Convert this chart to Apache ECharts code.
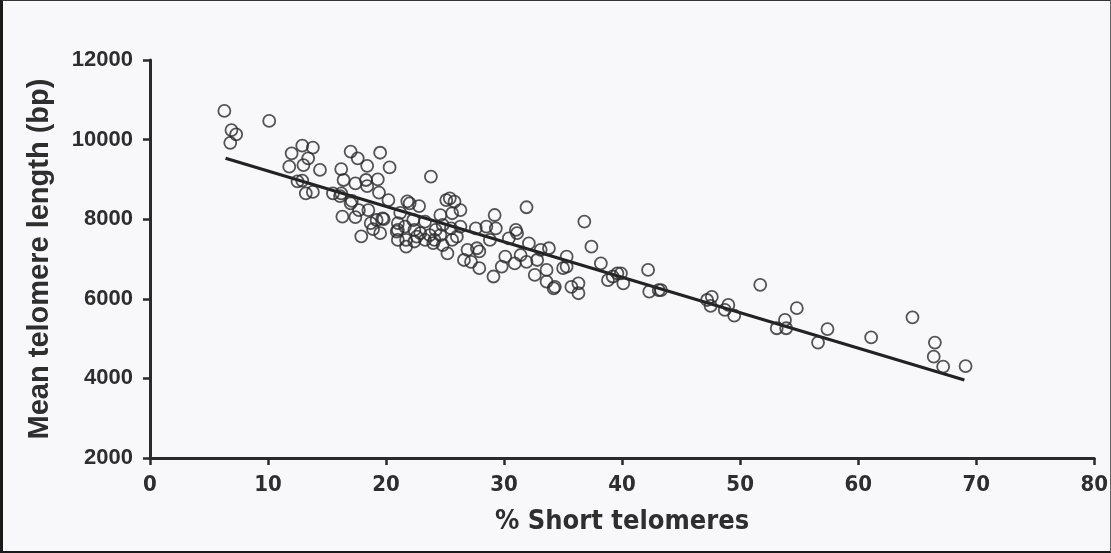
<!DOCTYPE html>
<html><head><meta charset="utf-8">
<script src="https://cdn.jsdelivr.net/npm/echarts@6/dist/echarts.min.js"></script>
<style>
html,body{margin:0;padding:0;background:#f8f8fb;}
#c{width:1111px;height:553px;}
#frame{position:absolute;left:0;top:0;width:1111px;height:553px;box-sizing:border-box;border-left:3px solid #1a1a1a;border-top:1px solid #333;border-bottom:2px solid #1a1a1a;border-right:1px solid #666;pointer-events:none;}
</style></head>
<body>
<div id="c"></div><div id="frame"></div>
<script>
const xTicks = [0,10,20,30,40,50,60,70,80];
const yTicks = [2000,4000,6000,8000,10000,12000];
const xLabel = '% Short telomeres';
const yLabel = 'Mean telomere length (bp)';
const shortPct = [
6.3,10.1,6.9,7.3,6.8,12.0,12.9,13.8,13.4,13.0,11.8,14.4,12.5,12.9,13.2,13.8,
17.0,17.6,19.5,18.4,20.3,16.2,16.4,17.4,15.5,16.2,17.1,18.3,18.4,19.3,19.4,20.2,16.1,17.0,17.7,18.5,16.3,17.4,19.2,19.8,18.9,19.5,17.9,
21.8,22.8,23.8,21.2,21.0,21.0,21.6,22.3,22.4,23.3,24.2,21.7,21.0,23.3,24.1,24.6,21.7,24.8,25.1,18.7,20.9,22.0,22.4,22.9,19.7,
25.4,25.8,26.3,25.6,29.2,31.9,24.8,25.5,26.3,27.6,28.5,29.3,24.6,25.6,31.0,31.1,28.8,30.4,32.1,25.2,26.9,27.7,27.9,33.8,33.1,26.6,27.2,30.1,31.4,31.9,30.9,29.8,32.8,27.9,33.6,35.0,29.1,32.6,33.6,34.3,
22.6,23.7,24.0,26.0,
36.8,37.4,35.3,38.2,42.2,38.8,39.6,40.1,39.2,42.3,43.3,34.2,35.7,36.3,36.3,35.3,39.9,43.1,
47.2,47.6,47.5,49.0,48.7,49.5,51.7,54.8,53.8,53.1,53.9,57.4,56.6,61.1,64.6,66.5,66.4,67.2,69.1
];
const meanLength = [
10720,10470,10240,10130,9920,9656,9848,9800,9530,9360,9320,9237,8950,8970,8650,8685,
9700,9530,9670,9340,9300,9260,8985,8900,8650,8650,8460,8985,8830,9000,8670,8480,8580,8400,8230,8230,8063,8050,7980,8000,7750,7650,7570,
8450,8330,9070,8160,7900,7730,7815,7980,7730,7940,7730,7480,7480,7480,7480,8100,7310,7350,8480,7900,7690,8400,7440,7650,8020,
8525,8440,8230,8150,8105,8300,7855,7770,7815,7770,7815,7770,7600,7480,7730,7650,7480,7520,7395,7140,7230,7270,7190,7270,7230,6975,6930,7060,7100,6930,6890,6810,6975,6770,6725,6770,6560,6600,6430,6300,
7560,7600,7400,7560,
7940,7310,7060,6890,6725,6470,6640,6390,6560,6180,6220,6260,6300,6390,6140,6810,6640,6220,
5970,6050,5820,5845,5720,5575,6350,5765,5470,5260,5260,5240,4900,5030,5535,4900,4545,4295,4310
];
const fitX = [6.4, 69.0];
const fitY = [9530, 3960];

const pts = shortPct.map((x,i)=>[x, meanLength[i]]);
const fit = fitX.map((x,i)=>[x, fitY[i]]);
const txt = '#2e2e2e';
const narrow = '"Liberation Sans Narrow", "DejaVu Sans Condensed", "Roboto Condensed", sans-serif';
const arial = '"Liberation Sans", Arial, Helvetica, sans-serif';
const chart = echarts.init(document.getElementById('c'));
chart.setOption({
  backgroundColor:'#f8f8fb',
  animation:false,
  grid:{left:150,right:9,top:60,bottom:95},
  xAxis:{type:'value',min:0,max:80,interval:10,
    name:xLabel,nameLocation:'middle',nameGap:50,
    nameTextStyle:{fontFamily:narrow,fontWeight:'bold',fontSize:27,color:txt},
    axisLine:{lineStyle:{color:'#2a2a2a',width:3}},
    axisTick:{length:7,lineStyle:{color:'#2a2a2a',width:2.5}},
    axisLabel:{margin:16,fontFamily:narrow,fontWeight:'bold',fontSize:22,color:txt,
      formatter:v=>String(v)},
    splitLine:{show:false}},
  yAxis:{type:'value',min:2000,max:12000,interval:2000,
    name:yLabel,nameLocation:'middle',nameGap:96,
    nameTextStyle:{fontFamily:arial,fontWeight:'bold',fontSize:29,color:txt},
    axisLine:{lineStyle:{color:'#2a2a2a',width:3}},
    axisTick:{length:7,lineStyle:{color:'#2a2a2a',width:2.5}},
    axisLabel:{margin:17,fontFamily:arial,fontWeight:'bold',fontSize:22,color:txt,
      formatter:v=>String(v)},
    splitLine:{show:false}},
  series:[
    {type:'scatter',data:pts,symbol:'circle',symbolSize:12,
     itemStyle:{color:'rgba(0,0,0,0)',borderColor:'#2a2a2a',borderWidth:1.8},z:3},
    {type:'line',data:fit,symbol:'none',lineStyle:{color:'#222',width:3},z:2}
  ]
});
</script>
</body></html>
